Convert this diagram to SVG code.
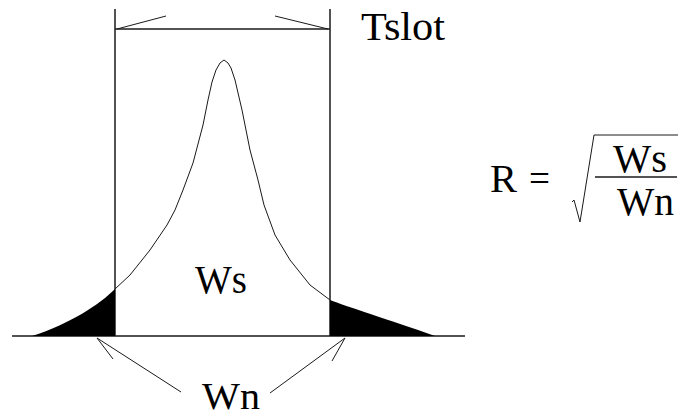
<svg xmlns="http://www.w3.org/2000/svg" width="678" height="417" viewBox="0 0 678 417">
<style>
.ln{stroke:#1a1a1a;stroke-width:1.5;fill:none}
.thin{stroke:#1a1a1a;stroke-width:1;fill:none;stroke-linejoin:round}
.fill{fill:#000;stroke:none}
.t{font-size:40px;fill:#000}
</style>
<rect width="678" height="417" fill="#fff"/>
<g id="axes">
<line class="ln" x1="12" y1="336" x2="465" y2="336"/>
<line class="ln" x1="115" y1="9" x2="115" y2="336"/>
<line class="ln" x1="330" y1="9" x2="330" y2="336"/>
</g>
<g id="noise-tails">
<path class="fill" d="M115,289 C100,304 70,324 32,336 L115,336 Z"/>
<path class="fill" d="M330,300 C345,306 390,320 435,336 L330,336 Z"/>
</g>
<g id="signal-peak">
<polyline class="thin" points="115,289 130,275 150,250 167,225 175,210 183,190 193,163 203,125 208,100 212,82 216,70 220,63 224,60 228,63 231,68 235,80 242,110 250,150 258,180 264,205 275,235 290,260 310,285 330,300"/>
</g>
<g id="connectors">
<line class="ln" x1="115" y1="29" x2="330" y2="29"/>
<line class="thin" x1="117" y1="29" x2="166" y2="16"/>
<line class="thin" x1="328" y1="29" x2="275" y2="16"/>
<line class="thin" x1="97" y1="338" x2="181" y2="392"/>
<line class="thin" x1="97" y1="338" x2="113" y2="359"/>
<line class="thin" x1="345" y1="338" x2="270" y2="393"/>
<line class="thin" x1="345" y1="338" x2="332" y2="361"/>
</g>
<g font-family="'Liberation Serif', 'DejaVu Serif', serif">
<g id="label-tslot"><text class="t" x="361" y="40" textLength="84" lengthAdjust="spacingAndGlyphs">Tslot</text></g>
<g id="label-ws"><text class="t" x="195" y="293" textLength="52" lengthAdjust="spacingAndGlyphs">Ws</text></g>
<g id="label-wn"><text class="t" x="202" y="409" font-size="37" style="font-size:37px" textLength="58" lengthAdjust="spacingAndGlyphs">Wn</text></g>
<g id="formula">
<text class="t" x="490" y="192" textLength="27" lengthAdjust="spacingAndGlyphs">R</text>
<text class="t" x="529" y="192" textLength="21" lengthAdjust="spacingAndGlyphs">=</text>
<polyline class="thin" points="572,202 574,200 580,222 594,135 678,135" stroke-width="1.3"/>
<line class="ln" x1="595" y1="177" x2="677" y2="177"/>
<text class="t" x="613" y="172" textLength="54" lengthAdjust="spacingAndGlyphs">Ws</text>
<text class="t" x="617" y="215" textLength="57" lengthAdjust="spacingAndGlyphs">Wn</text>
</g>
</g>
</svg>
